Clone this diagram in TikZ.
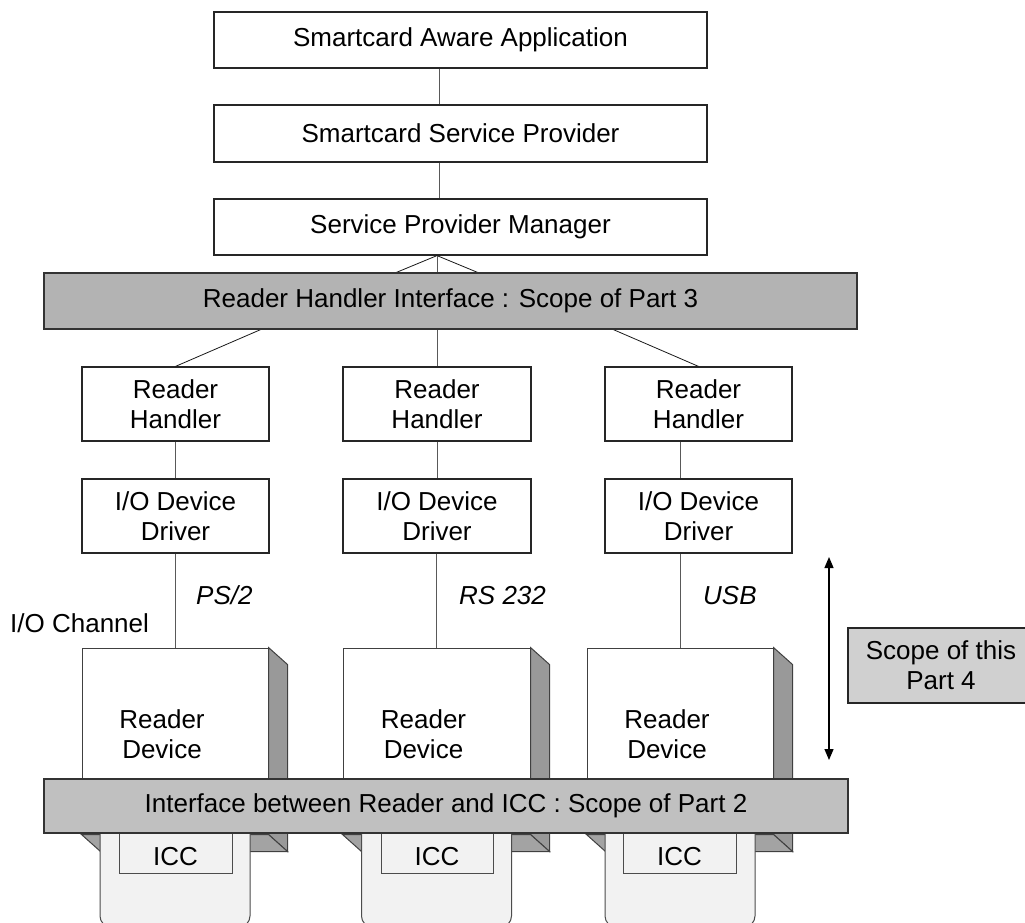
\documentclass[tikz,border=0pt]{standalone}
\usepackage{fontspec}
\setmainfont{Liberation Sans}
\usetikzlibrary{arrows.meta,calc}
\newcommand\dfont{\fontsize{26}{30}\selectfont}
\definecolor{barA}{HTML}{B3B3B3}
\definecolor{barB}{HTML}{C0C0C0}
\definecolor{scopeC}{HTML}{D0D0D0}
\definecolor{sideC}{HTML}{999999}
\definecolor{botC}{HTML}{A3A3A3}
\definecolor{cardC}{HTML}{F2F2F2}
\begin{document}
\begin{tikzpicture}[x=1pt,y=-1pt,
  box/.style={draw=black!85,line width=1.2pt,fill=white,inner sep=0pt,align=center,font=\dfont},
  bar/.style={box,draw=black!80},
  conn/.style={draw=black!65,line width=0.9pt},
  diag/.style={draw=black!90,line width=0.8pt},
  face/.style={draw=black!75,line width=1pt},
  card/.style={draw=black!70,line width=1pt,fill=cardC,rounded corners=11pt,inner sep=0pt},
  icc/.style={draw=black!70,line width=0.9pt,fill=cardC,inner sep=0pt,font=\dfont},
  lbl/.style={inner sep=0pt,font=\dfont,align=center},
  ilbl/.style={inner sep=0pt,font=\dfont\itshape,anchor=base west},
  dbl/.style={line width=1.2pt,{Triangle[width=9pt,length=11pt]}-{Triangle[width=9pt,length=11pt]}}
]
\useasboundingbox (0,0) rectangle (1025,923);
\clip (0,0) rectangle (1025,923);
\fill[white] (0,0) rectangle (1025,923);

% top stack
\node[box,minimum width=493pt,minimum height=56pt] (app) at (460.5,40) {Smartcard Aware Application};
\node[box,minimum width=493pt,minimum height=57pt] (ssp) at (460.5,133.5) {Smartcard Service Provider};
\node[box,minimum width=493pt,minimum height=56pt] (spm) at (460.5,227) {Service Provider Manager};

% handlers and drivers
\node[box,minimum width=187pt,minimum height=74pt] (rh1) at (175.5,404) {Reader\\Handler};
\node[box,minimum width=188pt,minimum height=74pt] (rh2) at (437,404) {Reader\\Handler};
\node[box,minimum width=187pt,minimum height=74pt] (rh3) at (698.5,404) {Reader\\Handler};
\node[box,minimum width=187pt,minimum height=74pt] (io1) at (175.5,516) {I/O Device\\Driver};
\node[box,minimum width=188pt,minimum height=74pt] (io2) at (437,516) {I/O Device\\Driver};
\node[box,minimum width=187pt,minimum height=74pt] (io3) at (698.5,516) {I/O Device\\Driver};

% reader device front faces
\node[draw=black!75,line width=1pt,fill=white,minimum width=186pt,minimum height=186pt,inner sep=0pt] (rd1) at (175,741) {};
\node[draw=black!75,line width=1pt,fill=white,minimum width=187pt,minimum height=186pt,inner sep=0pt] (rd2) at (436.5,741) {};
\node[draw=black!75,line width=1pt,fill=white,minimum width=186pt,minimum height=186pt,inner sep=0pt] (rd3) at (680,741) {};

% connectors
\draw[conn] ([xshift=-21.5pt]app.south) -- ([xshift=-21.5pt]ssp.north);
\draw[conn] ([xshift=-21.5pt]ssp.south) -- ([xshift=-21.5pt]spm.north);
\coordinate (apex) at (spm.south -| rh2.north);
\coordinate (tl) at (395,273);
\coordinate (tr) at (479,273);
\draw[diag] (tl) -- (apex) -- (tr);
\draw[conn] (apex) -- (apex |- 0,273);
\coordinate (bl) at (262,329);
\coordinate (br) at (612,329);
\draw[diag] (bl) -- (rh1.north);
\draw[diag] (br) -- (rh3.north);
\draw[conn] (rh2.north |- 0,329) -- (rh2.north);
\draw[conn] (rh1.south) -- (io1.north);
\draw[conn] (rh2.south) -- (io2.north);
\draw[conn] (rh3.south -| rd3.north) -- (io3.north -| rd3.north);
\draw[conn] (io1.south -| rd1.north) -- (rd1.north);
\draw[conn] (io2.south -| rd2.north) -- (rd2.north);
\draw[conn] (io3.south -| rd3.north) -- (rd3.north);

% bar 1 (drawn over the ends of the connectors)
\node[bar,fill=barA,minimum width=813pt,minimum height=56pt] (bar1) at (450.5,301) {Reader Handler Interface : Scope of Part 3};

% 3D faces of reader devices
\foreach \r in {rd1,rd2,rd3}{
  \filldraw[face,fill=sideC] (\r.north east) -- ++(19,17) -- ($(\r.south east)+(19,17)$) -- (\r.south east) -- cycle;
  \filldraw[face,fill=botC] (\r.south west) -- (\r.south east) -- ($(\r.south east)+(19,17)$) -- ($(\r.south west)+(19,17)$) -- cycle;
}

% reader device labels
\node[lbl] (rdl1) at (162,734) {Reader\\Device};
\node[lbl] (rdl2) at (423.5,734) {Reader\\Device};
\node[lbl] (rdl3) at (667,734) {Reader\\Device};

% cards
\node[card,minimum width=150pt,minimum height=112pt] (card1) at (175,871) {};
\node[card,minimum width=150pt,minimum height=112pt] (card2) at (436.5,871) {};
\node[card,minimum width=150pt,minimum height=112pt] (card3) at (680,871) {};
\node[icc,minimum width=113pt,minimum height=50pt] (icc1) at (175.5,848) {};
\node[icc,minimum width=112pt,minimum height=50pt] (icc2) at (437,848) {};
\node[icc,minimum width=113pt,minimum height=50pt] (icc3) at (679.5,848) {};
\node[lbl] (icct1) at (175.5,857) {ICC};
\node[lbl] (icct2) at (437,857) {ICC};
\node[lbl] (icct3) at (679.5,857) {ICC};

% bar 2
\node[bar,fill=barB,minimum width=804pt,minimum height=54pt] (bar2) at (446,806) {Interface between Reader and ICC : Scope of Part 2};

% channel labels
\node[lbl,anchor=base west] (chan) at (10,632) {I/O Channel};
\node[ilbl] (ps2) at (196,604) {PS/2};
\node[ilbl] (rs232) at (459,604) {RS 232};
\node[ilbl] (usb) at (703,604) {USB};

% scope arrow and box
\coordinate (at) at (829,557);
\coordinate (ab) at (829,760);
\draw[dbl] (at) -- (ab);
\node[box,fill=scopeC,minimum width=186pt,minimum height=75pt] (scope) at (941,665.5) {Scope of this\\Part 4};
\end{tikzpicture}
\end{document}
